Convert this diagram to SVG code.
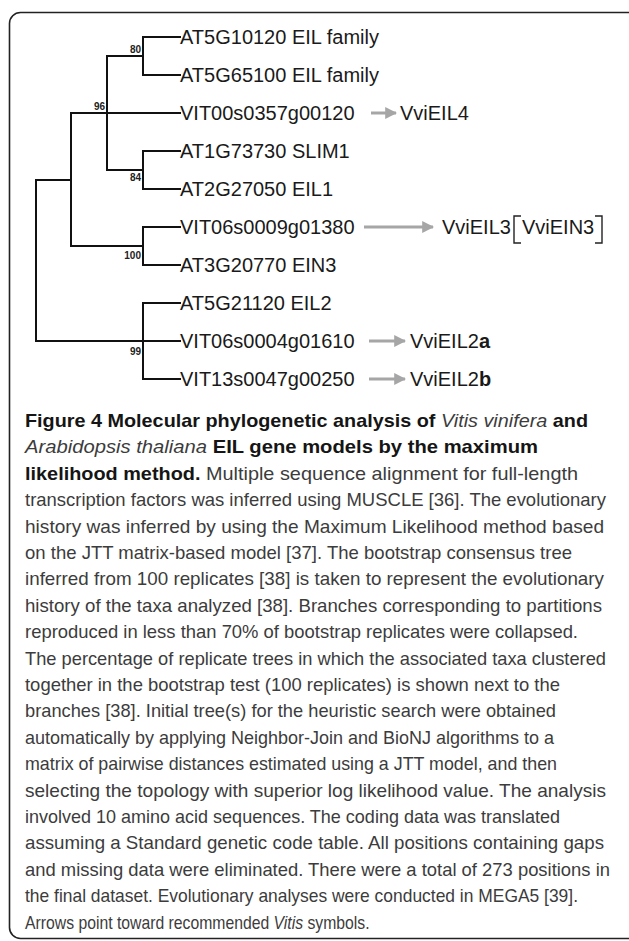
<svg xmlns="http://www.w3.org/2000/svg" width="629" height="941" viewBox="0 0 629 941">
<style>
.frame{fill:none;stroke:#222;stroke-width:1.6}
.br{fill:none;stroke:#111;stroke-width:2;stroke-linecap:square}
.lbl{font-family:"Liberation Sans",Arial,sans-serif;font-size:20px;fill:#1a1a1a}
.bs{font-family:"Liberation Sans",Arial,sans-serif;font-size:10px;font-weight:bold;fill:#222}
.arr{fill:none;stroke:#a6a6a6;stroke-width:3}
.bk{fill:none;stroke:#222;stroke-width:1.4}
.cap{font-family:"Liberation Sans",Arial,sans-serif;font-size:19px;fill:#3c3c3c}
.b{font-weight:bold;fill:#151515}
.i{font-style:italic}
</style>
<defs>
<marker id="ah" viewBox="0 0 10 10" refX="9" refY="5" markerWidth="4" markerHeight="4" orient="auto" markerUnits="strokeWidth">
<path d="M0,0 L10,5 L0,10 z" fill="#a6a6a6"/>
</marker>
</defs>
<rect class="frame" x="9.5" y="12.5" width="640" height="926" rx="11" ry="11"/>
<g id="connectors">
<path class="br" d="M143,37 H180 M143,75 H180 M143,37 V75 M107,56 H143"/>
<path class="br" d="M107,56 V170 M71,113 H180 M107,170 H143 M143,151 V189 M143,151 H180 M143,189 H180"/>
<path class="br" d="M71,113 V246 M71,246 H143 M143,227 V265 M143,227 H180 M143,265 H180"/>
<path class="br" d="M36,180 H71 M36,180 V341 M36,341 H180 M143,303 V379 M143,303 H180 M143,379 H180"/>
<line class="arr" x1="371" y1="113" x2="396" y2="113" marker-end="url(#ah)"/>
<line class="arr" x1="364" y1="227" x2="433" y2="227" marker-end="url(#ah)"/>
<line class="arr" x1="369" y1="341" x2="405" y2="341" marker-end="url(#ah)"/>
<line class="arr" x1="369" y1="379" x2="405" y2="379" marker-end="url(#ah)"/>
</g>
<g id="bootstrap">
<text class="bs" x="141" y="53" text-anchor="end">80</text>
<text class="bs" x="105" y="110" text-anchor="end">96</text>
<text class="bs" x="141" y="181" text-anchor="end">84</text>
<text class="bs" x="141" y="259" text-anchor="end">100</text>
<text class="bs" x="141" y="355" text-anchor="end">99</text>
</g>
<g id="leaf-AT5G10120"><text class="lbl" x="180" y="44">AT5G10120 EIL family</text></g>
<g id="leaf-AT5G65100"><text class="lbl" x="180" y="82">AT5G65100 EIL family</text></g>
<g id="leaf-VIT00s0357g00120"><text class="lbl" x="180" y="120">VIT00s0357g00120</text></g>
<g id="sym-VviEIL4"><text class="lbl" x="400" y="120">VviEIL4</text></g>
<g id="leaf-AT1G73730"><text class="lbl" x="180" y="158">AT1G73730 SLIM1</text></g>
<g id="leaf-AT2G27050"><text class="lbl" x="180" y="196">AT2G27050 EIL1</text></g>
<g id="leaf-VIT06s0009g01380"><text class="lbl" x="180" y="234">VIT06s0009g01380</text></g>
<g id="sym-VviEIL3">
<text class="lbl" x="442" y="234">VviEIL3</text>
<path class="bk" d="M521,216 H514 V243 H521"/>
<text class="lbl" x="522" y="234">VviEIN3</text>
<path class="bk" d="M595,216 H602 V243 H595"/>
</g>
<g id="leaf-AT3G20770"><text class="lbl" x="180" y="272">AT3G20770 EIN3</text></g>
<g id="leaf-AT5G21120"><text class="lbl" x="180" y="310">AT5G21120 EIL2</text></g>
<g id="leaf-VIT06s0004g01610"><text class="lbl" x="180" y="348">VIT06s0004g01610</text></g>
<g id="sym-VviEIL2a"><text class="lbl" x="410" y="348">VviEIL2<tspan font-weight="bold">a</tspan></text></g>
<g id="leaf-VIT13s0047g00250"><text class="lbl" x="180" y="386">VIT13s0047g00250</text></g>
<g id="sym-VviEIL2b"><text class="lbl" x="410" y="386">VviEIL2<tspan font-weight="bold">b</tspan></text></g>
<g id="caption">
<text class="cap" x="25" y="427" textLength="563" lengthAdjust="spacingAndGlyphs"><tspan class="b">Figure 4 Molecular phylogenetic analysis of </tspan><tspan class="i">Vitis vinifera</tspan><tspan class="b"> and</tspan></text>
<text class="cap" x="25" y="453.4" textLength="513" lengthAdjust="spacingAndGlyphs"><tspan class="i">Arabidopsis thaliana</tspan><tspan class="b"> EIL gene models by the maximum</tspan></text>
<text class="cap" x="25" y="479.8" textLength="553" lengthAdjust="spacingAndGlyphs"><tspan class="b">likelihood method.</tspan> Multiple sequence alignment for full-length</text>
<text class="cap" x="25" y="506.2" textLength="581" lengthAdjust="spacingAndGlyphs">transcription factors was inferred using MUSCLE [36]. The evolutionary</text>
<text class="cap" x="25" y="532.6" textLength="579" lengthAdjust="spacingAndGlyphs">history was inferred by using the Maximum Likelihood method based</text>
<text class="cap" x="25" y="559" textLength="547" lengthAdjust="spacingAndGlyphs">on the JTT matrix-based model [37]. The bootstrap consensus tree</text>
<text class="cap" x="25" y="585.4" textLength="579" lengthAdjust="spacingAndGlyphs">inferred from 100 replicates [38] is taken to represent the evolutionary</text>
<text class="cap" x="25" y="611.8" textLength="577" lengthAdjust="spacingAndGlyphs">history of the taxa analyzed [38]. Branches corresponding to partitions</text>
<text class="cap" x="25" y="638.2" textLength="553" lengthAdjust="spacingAndGlyphs">reproduced in less than 70% of bootstrap replicates were collapsed.</text>
<text class="cap" x="25" y="664.6" textLength="581" lengthAdjust="spacingAndGlyphs">The percentage of replicate trees in which the associated taxa clustered</text>
<text class="cap" x="25" y="691" textLength="535" lengthAdjust="spacingAndGlyphs">together in the bootstrap test (100 replicates) is shown next to the</text>
<text class="cap" x="25" y="717.4" textLength="531" lengthAdjust="spacingAndGlyphs">branches [38]. Initial tree(s) for the heuristic search were obtained</text>
<text class="cap" x="25" y="743.8" textLength="529" lengthAdjust="spacingAndGlyphs">automatically by applying Neighbor-Join and BioNJ algorithms to a</text>
<text class="cap" x="25" y="770.2" textLength="532" lengthAdjust="spacingAndGlyphs">matrix of pairwise distances estimated using a JTT model, and then</text>
<text class="cap" x="25" y="796.6" textLength="581" lengthAdjust="spacingAndGlyphs">selecting the topology with superior log likelihood value. The analysis</text>
<text class="cap" x="25" y="823" textLength="535" lengthAdjust="spacingAndGlyphs">involved 10 amino acid sequences. The coding data was translated</text>
<text class="cap" x="25" y="849.4" textLength="579" lengthAdjust="spacingAndGlyphs">assuming a Standard genetic code table. All positions containing gaps</text>
<text class="cap" x="25" y="875.8" textLength="585" lengthAdjust="spacingAndGlyphs">and missing data were eliminated. There were a total of 273 positions in</text>
<text class="cap" x="25" y="902.2" textLength="553" lengthAdjust="spacingAndGlyphs">the final dataset. Evolutionary analyses were conducted in MEGA5 [39].</text>
<text class="cap" transform="translate(25,928.6) scale(0.83,1)" x="0" y="0">Arrows point toward recommended <tspan class="i">Vitis</tspan> symbols.</text>
</g>
</svg>
